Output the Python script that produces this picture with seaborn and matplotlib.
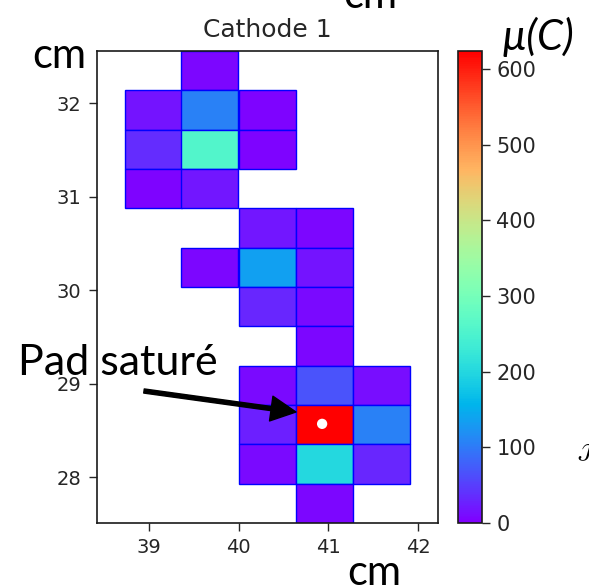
import numpy as np
import matplotlib
matplotlib.use("Agg")
import matplotlib.pyplot as plt
import seaborn as sns
from matplotlib.colors import Normalize
from matplotlib.cm import ScalarMappable

# ---- data (pad centres in cm, charge in uC) ----
pad_x = [39.68,
         39.05, 39.68, 40.32,
         39.05, 39.68, 40.32,
         39.05, 39.68,
         40.32, 40.955,
         39.68, 40.32, 40.955,
         40.32, 40.955,
         40.955,
         40.32, 40.955, 41.59,
         40.32, 40.955, 41.59,
         40.32, 40.955, 41.59,
         40.955]
pad_y = [32.346,
         31.926, 31.926, 31.926,
         31.505, 31.505, 31.505,
         31.085, 31.085,
         30.664, 30.664,
         30.244, 30.244, 30.244,
         29.823, 29.823,
         29.403,
         28.983, 28.983, 28.983,
         28.562, 28.562, 28.562,
         28.142, 28.142, 28.142,
         27.721]
charge = [5,
          15, 105, 4,
          35, 258, 4,
          4, 18,
          18, 5,
          5, 135, 15,
          30, 8,
          5,
          8, 68, 10,
          25, 640, 105,
          8, 200, 30,
          5]
centroid_x = [40.93]
centroid_y = [28.57]
cbar_ticks = [0, 100, 200, 300, 400, 500, 600]
title = "Cathode 1"

PAD_W = 0.636
PAD_H = 0.4205
VMAX = 624

sns.set_style("ticks")
plt.rcParams['font.family'] = ['DejaVu Sans']

fig = plt.figure(figsize=(5.89, 5.86), dpi=100)
ax = fig.add_axes([97/589, 1-523/586, (438-97)/589, (523-51)/586])
cax = fig.add_axes([458.3/589, 1-523/586, 23.4/589, (523-51)/586])

cmap = sns.color_palette("rainbow", as_cmap=True)
norm = Normalize(vmin=0, vmax=VMAX)
px = np.array(pad_x)
py = np.array(pad_y)
cols = cmap(norm(np.array(charge)))
ax.bar(px, PAD_H, width=PAD_W, bottom=py - PAD_H/2, color=cols,
       edgecolor="#0000ff", linewidth=1.0, align="center", zorder=2)

sns.scatterplot(x=centroid_x, y=centroid_y, ax=ax, color="white", s=55,
                edgecolor="none", zorder=5, legend=False)

ax.set_xlim(38.424, 42.22)
ax.set_ylim(27.51, 32.556)
ax.set_xticks([39, 40, 41, 42])
ax.set_yticks([28, 29, 30, 31, 32])
ax.tick_params(labelsize=14, length=5.5, width=1, colors="0.15")
ax.tick_params(axis="x", pad=5)
ax.tick_params(axis="y", pad=6)
for s in ax.spines.values():
    s.set_linewidth(1.2)
    s.set_color("0.1")
ax.set_title(title, fontsize=18, color="0.15", pad=10)

cb = fig.colorbar(ScalarMappable(norm=norm, cmap=cmap), cax=cax, ticks=cbar_ticks)
cb.ax.tick_params(labelsize=15, length=5.5, width=1, colors="0.15", pad=5)
cb.outline.set_linewidth(1.2)
cb.outline.set_edgecolor("0.1")

# ---- overlay annotations ----
W, H = 589, 586
def ft(x, y, s, **kw):
    fig.text(x / W, 1 - y / H, s, va="baseline", ha="left", **kw)

big = dict(fontsize=30, family=["Lato", "DejaVu Sans"], color="black")
ft(32, 68, "cm", **big)
ft(343, 8, "cm", **big)
ft(347, 585, "cm", **big)
ft(18, 375, "Pad saturé", fontsize=31, family=["Lato", "DejaVu Sans"], color="black")
ft(502, 50, "µ(C)", style="italic", **big)
ft(577, 458, r"$\mathcal{J}$", fontsize=15, color="black")

ax.annotate("", xy=(296/W, 1-412/H), xytext=(144/W, 1-391/H),
            xycoords="figure fraction", textcoords="figure fraction",
            arrowprops=dict(facecolor="black", edgecolor="black", width=3,
                            headwidth=18, headlength=18, shrink=0))

fig.savefig("out.png", dpi=100)
